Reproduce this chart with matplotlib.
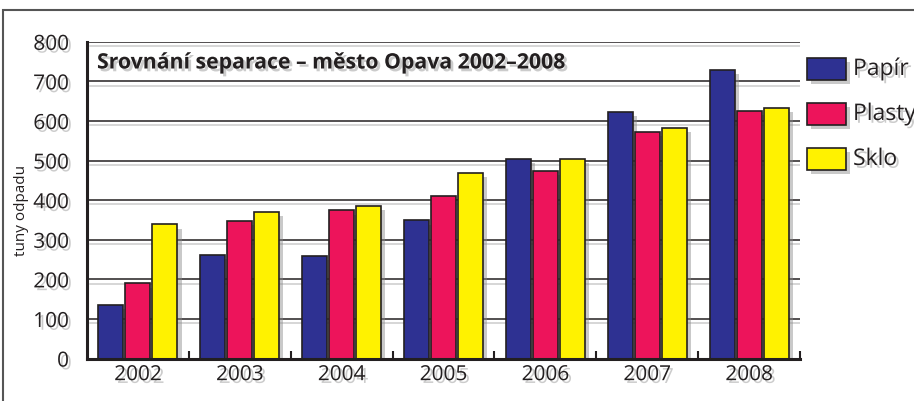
import matplotlib
matplotlib.use("Agg")
import matplotlib.pyplot as plt
import matplotlib.patheffects as pe
from matplotlib.patches import Rectangle
import numpy as np

years = ["2002", "2003", "2004", "2005", "2006", "2007", "2008"]
papir = [135, 262, 260, 349, 505, 623, 729]
plasty = [190, 348, 374, 410, 474, 572, 626]
sklo = [339, 370, 385, 469, 505, 583, 632]
series_names = ["Papír", "Plasty", "Sklo"]
colors = ["#2E3192", "#ED145B", "#FFF200"]
title = "Srovnání separace – město Opava 2002–2008"
ylabel = "tuny odpadu"
yticks = [0, 100, 200, 300, 400, 500, 600, 700, 800]

plt.rcParams['font.family'] = ['Open Sans', 'DejaVu Sans']

W, H = 914, 401
fig = plt.figure(figsize=(W / 100, H / 100), dpi=100)
fig.patch.set_facecolor("white")

# outer frame
fig.add_artist(Rectangle((3 / W, -0.5), 2, 1 - 10 / H + 0.5, transform=fig.transFigure,
                         fill=False, edgecolor="#555555", linewidth=1.5))

ax = fig.add_axes([87 / W, 1 - 358.6 / H, (800 - 87) / W, (358.6 - 41.8) / H])
ax.set_xlim(-0.5, len(years) - 0.5)
ax.set_ylim(0, 800)

shadow = [pe.SimplePatchShadow(offset=(3, -3), shadow_rgbFace="#888888", alpha=0.45), pe.Normal()]
text_shadow = [pe.withSimplePatchShadow(offset=(2, -2), shadow_rgbFace="#999999", alpha=0.5)]

x = np.arange(len(years))
bw = 0.245
step = 0.265
for i, (vals, col) in enumerate(zip([papir, plasty, sklo], colors)):
    bars = ax.bar(x + (i - 1) * step, vals, width=bw, color=col, edgecolor="#231F20",
                  linewidth=1.2, zorder=3)
    for b in bars:
        b.set_path_effects(shadow)

for sp in ["top", "right"]:
    ax.spines[sp].set_visible(False)
for sp in ["left", "bottom"]:
    ax.spines[sp].set_linewidth(2.2)
    ax.spines[sp].set_color("#231F20")
    ax.spines[sp].set_zorder(4)

ax.set_yticks(yticks)
ax.set_yticklabels([str(v) for v in yticks], fontsize=15, color="#231F20")
ax.yaxis.grid(True, color="#231F20", linewidth=1.1, zorder=1)
for gl in ax.yaxis.get_gridlines():
    gl.set_path_effects([pe.SimpleLineShadow(offset=(2, -3), shadow_color="#999999", alpha=0.5), pe.Normal()])
ax.tick_params(axis="y", length=0, pad=13)
for t in ax.get_yticklabels():
    t.set_path_effects(text_shadow)

ax.set_xticks(x)
ax.set_xticklabels(years, fontsize=15, color="#231F20")
ax.tick_params(axis="x", which="major", length=0, pad=4)
ax.set_xticks(np.arange(len(years)) + 0.5, minor=True)
ax.tick_params(axis="x", which="minor", direction="in", length=6, width=1.5, color="#231F20")
for t in ax.get_xticklabels():
    t.set_path_effects(text_shadow)
ax.set_axisbelow(True)

fig.text(22 / W, 1 - 210 / H, ylabel, rotation=90, fontsize=11, color="#231F20",
         ha="center", va="center")

ax.text(97 / W, 1 - 63 / H, title, transform=fig.transFigure, fontsize=15.3, fontweight="bold",
        color="#231F20", ha="left", va="center", path_effects=text_shadow, zorder=5)

# legend
legend_y = [69, 114, 159]
for name, col, yc in zip(series_names, colors, legend_y):
    r = Rectangle((807 / W, 1 - (yc + 11) / H), 39 / W, 22 / H, transform=fig.transFigure,
                  facecolor=col, edgecolor="#231F20", linewidth=1.2)
    r.set_path_effects(shadow)
    fig.add_artist(r)
    fig.text(853 / W, 1 - yc / H, name, fontsize=16.5, color="#231F20", ha="left", va="center",
             path_effects=text_shadow)

fig.savefig("out.png", dpi=100)
